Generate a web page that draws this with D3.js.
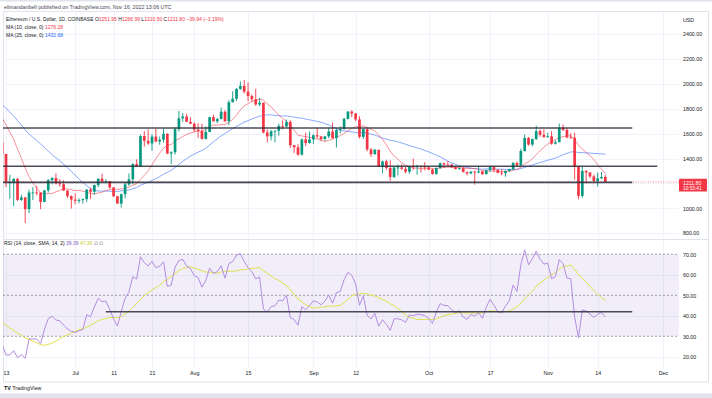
<!DOCTYPE html>
<html><head><meta charset="utf-8">
<script src="https://cdn.jsdelivr.net/npm/d3@7"></script>
<style>html,body{margin:0;padding:0;background:#fff;}svg{display:block;font-family:"Liberation Sans",Arial,sans-serif;}</style>
</head><body><svg id="c" width="712" height="398"></svg>
<script>
// ---------------- DATA ----------------
const firstDay = "2022-06-12";
const opens = [1529,1436,1208,1209,1236,1067,1087,993,1127,1127,1125,1051,1144,1226,1243,1200,1193,1143,1098,
1070,1060,1067,1074,1150,1133,1187,1238,1216,1219,1167,1097,1038,1113,1192,1233,1355,1339,1580,1542,1521,1576,1537,1551,1598,1440,1450,1636,1723,1737,1695,
1679,1632,1621,1558,1614,1732,1699,1717,1776,1700,1852,1880,1959,1983,1937,1902,1876,1834,1848,1609,1578,1618,1622,1662,1657,1694,1507,1490,1431,1553,1524,
1553,1587,1577,1557,1578,1617,1563,1629,1636,1718,1777,1761,1714,1574,1636,1472,1434,1470,1335,1377,1324,1252,1327,1328,1317,1294,1335,1330,1337,1335,
1328,1311,1276,1323,1362,1352,1351,1330,1315,1322,1291,1280,1295,1288,1297,1275,1306,1331,1310,1285,1282,1299,1314,1364,1345,1460,1565,1512,1556,1620,1590,
1572,1578,1519,1531,1646,1630,1569,1567,1334,1100,1300,1288,1256,1219,1241,1251.95];
const highs = [1544,1438,1269,1243,1243,1110,1092,1150,1170,1179,1131,1147,1235,1250,1280,1236,1225,1144,1104,
1120,1080,1079,1154,1165,1190,1240,1278,1234,1220,1170,1099,1118,1209,1280,1362,1393,1590,1620,1635,1595,1640,1576,1638,1603,1458,1650,1783,1765,1760,1730,
1690,1685,1680,1658,1736,1752,1726,1810,1788,1868,1940,1965,2020,2030,2012,1915,1960,1887,1849,1633,1630,1627,1680,1705,1714,1708,1507,1515,1560,1608,1618,
1594,1645,1582,1578,1648,1688,1640,1657,1728,1781,1788,1766,1740,1643,1650,1485,1478,1470,1383,1389,1386,1335,1350,1354,1335,1338,1400,1350,1343,1372,
1336,1318,1328,1368,1366,1379,1358,1339,1327,1333,1296,1298,1302,1340,1297,1312,1337,1339,1314,1313,1306,1319,1372,1375,1478,1592,1573,1560,1664,1635,1636,
1606,1620,1547,1680,1673,1644,1604,1608,1341,1340,1305,1288,1270,1287,1291,1266.99];
const lows = [1424,1170,1076,1017,1058,1060,881,960,1067,1104,993,1050,1127,1192,1191,1174,1140,1082,998,
1033,1041,1038,1052,1075,1108,1169,1202,1200,1158,1090,1036,1006,1080,1180,1193,1333,1338,1495,1510,1463,1530,1510,1528,1436,1356,1432,1617,1695,1693,1676,
1612,1567,1551,1553,1612,1696,1684,1714,1690,1668,1850,1862,1951,1922,1860,1856,1823,1820,1601,1530,1545,1530,1583,1634,1652,1486,1445,1423,1425,1500,1520,
1515,1562,1540,1540,1563,1560,1488,1601,1634,1714,1733,1699,1561,1558,1457,1413,1432,1335,1282,1310,1220,1243,1265,1310,1280,1276,1310,1270,1289,1305,
1306,1270,1270,1318,1323,1342,1322,1312,1310,1288,1263,1273,1190,1280,1267,1270,1294,1290,1282,1265,1253,1292,1305,1332,1342,1455,1504,1497,1550,1575,1566,
1565,1510,1512,1530,1620,1563,1560,1229,1073,1085,1200,1243,1201,1175,1236,1210.50];
const closes = [1436,1208,1209,1236,1067,1087,993,1127,1127,1125,1051,1144,1226,1243,1200,1193,1143,1098,1070,
1060,1067,1074,1150,1133,1187,1238,1216,1219,1167,1097,1038,1113,1192,1233,1355,1339,1580,1542,1521,1576,1537,1551,1598,1440,1450,1636,1723,1737,1695,1679,
1632,1621,1558,1614,1732,1699,1717,1776,1700,1852,1880,1959,1983,1937,1902,1876,1834,1848,1609,1578,1618,1622,1662,1657,1694,1507,1490,1431,1553,1524,1553,
1587,1577,1557,1578,1617,1563,1629,1636,1718,1777,1761,1714,1574,1636,1472,1434,1470,1335,1377,1324,1252,1327,1328,1317,1294,1335,1330,1337,1335,1328,
1311,1276,1323,1362,1352,1351,1330,1315,1322,1291,1280,1295,1288,1297,1275,1306,1331,1310,1285,1282,1299,1314,1364,1345,1460,1565,1512,1556,1620,1590,1572,
1578,1519,1531,1646,1630,1569,1567,1334,1100,1300,1288,1256,1219,1241,1251.95,1211.80];
// closes before the visible window (Apr 1 - Jun 11), used to seed MA / RSI
const priorCloses = [3451,3445,3522,3521,3410,3171,3235,3189,3263,3213,2982,3029,3120,3020,3041,3062,2993,3058,3104,3077,2987,2965,2937,2923,3009,2808,2890,2937,2817,2729,
2827,2857,2783,2940,2749,2695,2636,2518,2245,2343,2072,1961,2014,2057,2145,2024,2090,1914,2018,1957,1975,2043,1972,1978,1944,1803,1725,1791,1812,1996,1942,
1822,1833,1775,1803,1806,1859,1814,1793,1789,1665,1530];
const priceTicks = [800,1000,1400,1600,1800,2000,2200,2400];
const priceGrid = [800,1000,1200,1400,1600,1800,2000,2200,2400];
const rsiTicks = [20,30,40,50,60,70];
const tickDates = ["2022-06-13","2022-07-01","2022-07-11","2022-07-21","2022-08-01","2022-08-15","2022-09-01","2022-09-12","2022-10-01","2022-10-17","2022-11-01","2022-11-14","2022-12-01"];
const tickLabels = ["13","Jul","11","21","Aug","15","Sep","12","Oct","17","Nov","14","Dec"];
// drawn horizontal levels: [price, start date, end date]
const priceLevels = [[1645,"2022-06-01","2022-11-23"],[1338,"2022-06-01","2022-11-29T12:00"],[1208,"2022-06-01","2022-11-23"]];
const rsiLevel = [42,"2022-07-09","2022-11-23"];
const lastPrice = 1211.80, countdown = "10:53:41";
const legendOHLC = ["1251.95","1266.99","1210.50","1211.80"], legendChange = "−39.94 (−3.19%)";
const ma10Last = "1276.28", ma25Last = "1432.68";
const rsiLast = "39.39", rsiMaLast = "47.36";

// ---------------- SETUP ----------------
const svg = d3.select("#c");
const parseD = s => s.includes("T") ? d3.utcParse("%Y-%m-%dT%H:%M")(s) : d3.utcParse("%Y-%m-%d")(s);
const dates = opens.map((_, i) => d3.utcDay.offset(parseD(firstDay), i));
const plotL = 3, plotR = 679, mainT = 12, mainB = 239, rsiT = 239, rsiB = 368;
const x = d3.scaleUtc().domain([parseD("2022-06-13"), parseD("2022-12-01")]).range([6, 663]);
const y = d3.scaleLinear().domain([800, 2400]).range([233.2, 34]);
const yR = d3.scaleLinear().domain([20, 70]).range([356.8, 254.3]);
const red = "#f23645", green = "#089981", txt = "#131722";

// frame & bands
svg.append("rect").attr("x",0).attr("y",0).attr("width",712).attr("height",398).attr("fill","#fff");
svg.append("rect").attr("x",0).attr("y",0).attr("width",712).attr("height",1.5).attr("fill","#e0e3eb");
svg.append("rect").attr("x",0).attr("y",393.5).attr("width",712).attr("height",4.5).attr("fill","#e0e3eb");
svg.append("rect").attr("x",3.5).attr("y",11.5).attr("width",705).attr("height",370.5).attr("fill","none").attr("stroke","#e0e3eb");

const defs = svg.append("defs");
defs.append("clipPath").attr("id","cm").append("rect").attr("x",plotL).attr("y",mainT).attr("width",plotR-plotL).attr("height",mainB-mainT);
defs.append("clipPath").attr("id","cr").append("rect").attr("x",plotL).attr("y",rsiT).attr("width",plotR-plotL).attr("height",rsiB-rsiT);

// grid
const grid = svg.append("g");
grid.selectAll(".vg").data(tickDates).join("line")
  .attr("x1", d => Math.round(x(parseD(d))) + 0.5).attr("x2", d => Math.round(x(parseD(d))) + 0.5)
  .attr("y1", mainT).attr("y2", rsiB).attr("stroke", "#f0f3fa");
grid.selectAll(".hg").data(priceGrid).join("line")
  .attr("x1", plotL).attr("x2", plotR).attr("y1", d => Math.round(y(d)) + 0.5).attr("y2", d => Math.round(y(d)) + 0.5)
  .attr("stroke", "#f0f3fa");
grid.selectAll(".rg").data([20,40,60]).join("line")
  .attr("x1", plotL).attr("x2", plotR).attr("y1", d => Math.round(yR(d)) + 0.5).attr("y2", d => Math.round(yR(d)) + 0.5)
  .attr("stroke", "#f0f3fa");
svg.append("line").attr("x1",plotL).attr("x2",708).attr("y1",mainB+0.5).attr("y2",mainB+0.5).attr("stroke","#e0e3eb");

// ---------------- indicators (from the closes) ----------------
const all = priorCloses.concat(closes);
const off = priorCloses.length;
function sma(arr, n) { return arr.map((_, i) => i >= n - 1 && arr[i-n+1] != null ? d3.mean(arr.slice(i-n+1, i+1)) : null); }
function rsi(src, n) {
  const out = src.map(() => null); let up = 0, dn = 0;
  for (let i = 1; i < src.length; i++) {
    const ch = src[i] - src[i-1], u = Math.max(ch, 0), d = Math.max(-ch, 0);
    if (i <= n) { up += u / n; dn += d / n; if (i === n) out[i] = 100 - 100 / (1 + up / dn); }
    else { up = (up * (n - 1) + u) / n; dn = (dn * (n - 1) + d) / n; out[i] = dn === 0 ? 100 : 100 - 100 / (1 + up / dn); }
  }
  return out;
}
const ma10 = sma(all, 10).slice(off), ma25 = sma(all, 25).slice(off);
const rsiAll = rsi(all, 14), rsiSma = sma(rsiAll, 14);
const rsiV = rsiAll.slice(off), rsiM = rsiSma.slice(off);

// ---------------- main pane ----------------
const gm = svg.append("g").attr("clip-path","url(#cm)");
const lineP = arr => d3.line().x((d, i) => x(dates[i])).y(d => y(d))(arr);
gm.append("path").attr("d", lineP(ma25)).attr("fill","none").attr("stroke","#2962ff").attr("stroke-opacity",0.55).attr("stroke-width",1);
gm.append("path").attr("d", lineP(ma10)).attr("fill","none").attr("stroke",red).attr("stroke-opacity",0.55).attr("stroke-width",1);

const idx = d3.range(opens.length);
const col = i => closes[i] >= opens[i] ? green : red;
gm.selectAll(".wick").data(idx).join("line")
  .attr("x1", i => x(dates[i])).attr("x2", i => x(dates[i]))
  .attr("y1", i => y(highs[i])).attr("y2", i => y(lows[i]))
  .attr("stroke", col).attr("stroke-width", 0.9);
gm.selectAll(".body").data(idx).join("rect")
  .attr("x", i => x(dates[i]) - 1.35).attr("width", 2.7)
  .attr("y", i => y(Math.max(opens[i], closes[i])))
  .attr("height", i => Math.max(0.8, Math.abs(y(opens[i]) - y(closes[i]))))
  .attr("fill", col);

// last price dotted line
gm.append("line").attr("x1",plotL).attr("x2",plotR).attr("y1",y(lastPrice)).attr("y2",y(lastPrice))
  .attr("stroke",red).attr("stroke-width",0.8).attr("stroke-dasharray","1,1.5").attr("stroke-opacity",0.8);

// horizontal drawn levels
gm.selectAll(".lvl").data(priceLevels).join("line")
  .attr("x1", d => x(parseD(d[1]))).attr("x2", d => x(parseD(d[2])))
  .attr("y1", d => y(d[0])).attr("y2", d => y(d[0]))
  .attr("stroke", "#2a2e39").attr("stroke-width", 1.6).attr("stroke-opacity", 0.85);

// ---------------- RSI pane ----------------
const gr = svg.append("g").attr("clip-path","url(#cr)");
gr.append("rect").attr("x",plotL).attr("width",plotR-plotL).attr("y",yR(70)).attr("height",yR(30)-yR(70)).attr("fill","#7e57c2").attr("fill-opacity",0.1);
gr.selectAll(".rl").data([70,50,30]).join("line")
  .attr("x1",plotL).attr("x2",plotR).attr("y1",d=>yR(d)).attr("y2",d=>yR(d))
  .attr("stroke","#787b86").attr("stroke-width",0.7).attr("stroke-dasharray","2,2");
const lineR = arr => d3.line().defined(d => d != null).x((d, i) => x(dates[i])).y(d => yR(d))(arr);
gr.append("path").attr("d", lineR(rsiM)).attr("fill","none").attr("stroke","#dfe24a").attr("stroke-width",1);
gr.append("path").attr("d", lineR(rsiV)).attr("fill","none").attr("stroke","#b48ce0").attr("stroke-width",1);
gr.append("line").attr("x1",x(parseD(rsiLevel[1]))).attr("x2",x(parseD(rsiLevel[2])))
  .attr("y1",yR(rsiLevel[0])).attr("y2",yR(rsiLevel[0])).attr("stroke","#2a2e39").attr("stroke-width",1.6).attr("stroke-opacity",0.85);

// ---------------- axes ----------------
const fs = 5.3;
const pa = svg.append("g").attr("transform","translate(683,0)")
  .call(d3.axisRight(y).tickValues(priceTicks).tickFormat(d => d.toFixed(2)).tickSize(0).tickPadding(0));
pa.select(".domain").remove();
pa.selectAll("text").attr("font-size", fs).attr("fill", txt).attr("font-family","Liberation Sans, Arial, sans-serif");
svg.append("text").attr("x",683).attr("y",21.5).attr("font-size",fs).attr("fill",txt).text("USD");

const ra = svg.append("g").attr("transform","translate(683,0)")
  .call(d3.axisRight(yR).tickValues(rsiTicks).tickFormat(d => d.toFixed(2)).tickSize(0).tickPadding(0));
ra.select(".domain").remove();
ra.selectAll("text").attr("font-size", fs).attr("fill", txt).attr("font-family","Liberation Sans, Arial, sans-serif");

const ta = svg.append("g").attr("transform","translate(0,371)")
  .call(d3.axisBottom(x).tickValues(tickDates.map(parseD)).tickFormat((d, i) => tickLabels[i]).tickSize(0).tickPadding(0));
ta.select(".domain").remove();
ta.selectAll("text").attr("font-size", fs).attr("fill", txt).attr("font-family","Liberation Sans, Arial, sans-serif");

// last price label
svg.append("rect").attr("x",679).attr("y",178.7).attr("width",28).attr("height",12.8).attr("fill",red).attr("rx",0.8);
svg.append("text").attr("x",683).attr("y",184.6).attr("font-size",5.2).attr("fill","#fff").text(lastPrice.toFixed(2));
svg.append("text").attr("x",683).attr("y",190).attr("font-size",4.8).attr("fill","#fff").text(countdown);

// ---------------- texts ----------------
svg.append("text").attr("x",4).attr("y",9.4).attr("font-size",5.3).attr("fill","#434651")
  .text("elimandanbell published on TradingView.com, Nov 16, 2022 13:06 UTC");
const l1 = svg.append("text").attr("x",6).attr("y",21.2).attr("font-size",5).attr("fill",txt);
[["Ethereum / U.S. Dollar, 1D, COINBASE  ",txt],["O",txt],[legendOHLC[0],red],[" H",txt],[legendOHLC[1],red],[" L",txt],[legendOHLC[2],red],[" C",txt],[legendOHLC[3],red],[" " + legendChange,red]]
  .forEach(([t,c]) => l1.append("tspan").attr("fill",c).text(t));
const l2 = svg.append("text").attr("x",6).attr("y",29).attr("font-size",5).attr("fill",txt);
l2.append("tspan").text("MA (10, close, 0)  "); l2.append("tspan").attr("fill",red).text(ma10Last);
const l3 = svg.append("text").attr("x",6).attr("y",36.6).attr("font-size",5).attr("fill",txt);
l3.append("tspan").text("MA (25, close, 0)  "); l3.append("tspan").attr("fill","#2962ff").text(ma25Last);
const l4 = svg.append("text").attr("x",4).attr("y",245).attr("font-size",5).attr("fill",txt);
l4.append("tspan").text("RSI (14, close, SMA, 14, 2)  ");
l4.append("tspan").attr("fill","#7e57c2").text(rsiLast + "  ");
l4.append("tspan").attr("fill","#c9cc2e").text(rsiMaLast + "  ");
l4.append("tspan").attr("fill","#787b86").text("∅  ∅");

// logo
const lg = svg.append("text").attr("x",4).attr("y",390).attr("font-size",5.3).attr("fill",txt);
lg.append("tspan").attr("font-weight","bold").text("TV ");
lg.append("tspan").text("TradingView");
</script></body></html>
